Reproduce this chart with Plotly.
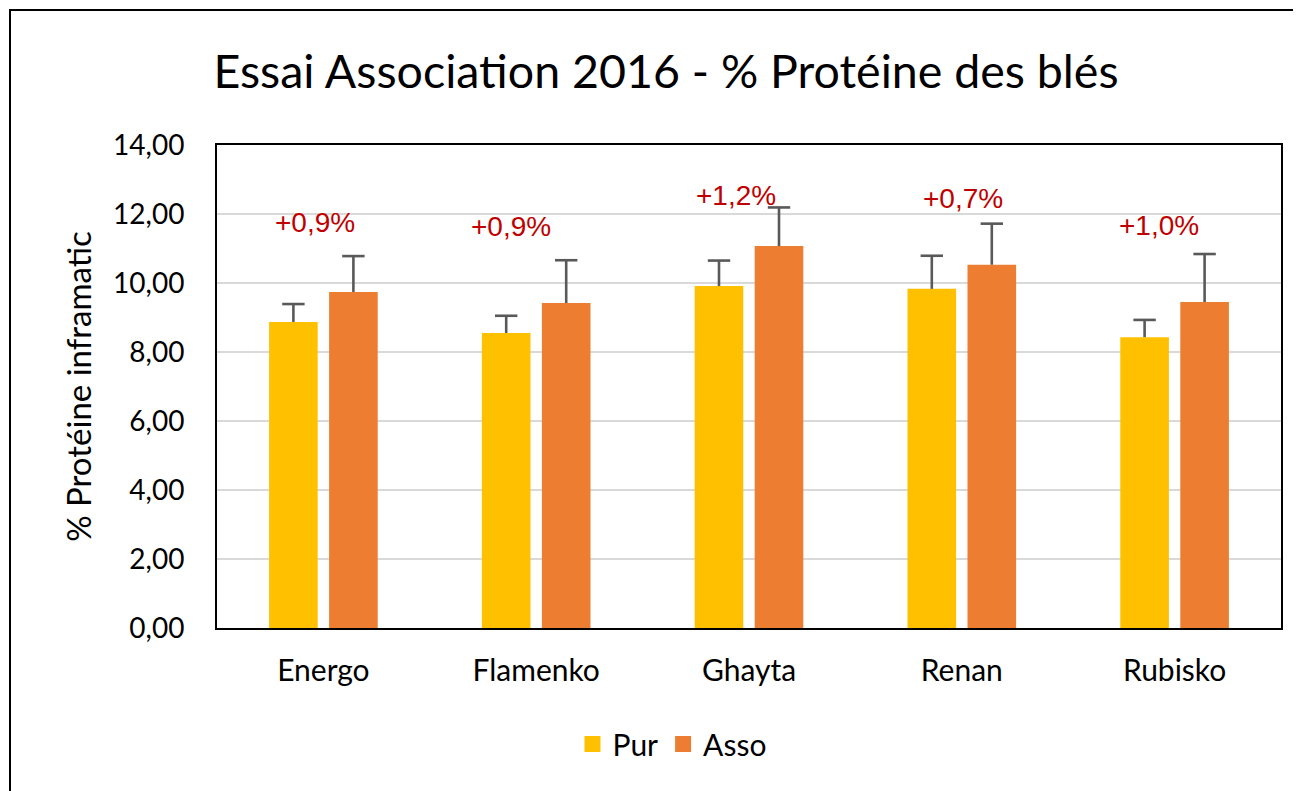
import plotly.graph_objects as go

categories = ["Energo", "Flamenko", "Ghayta", "Renan", "Rubisko"]
pur = [8.87, 8.55, 9.91, 9.83, 8.43]
pur_err = [0.52, 0.50, 0.74, 0.96, 0.50]
asso = [9.74, 9.42, 11.07, 10.53, 9.45]
asso_err = [1.04, 1.24, 1.12, 1.19, 1.39]
gain_labels = ["+0,9%", "+0,9%", "+1,2%", "+0,7%", "+1,0%"]
gain_label_y = [11.74, 11.65, 12.55, 12.46, 11.68]
gain_label_xshift = [-8, -25, -13, 1, -16]
y_ticks = [0, 2, 4, 6, 8, 10, 12, 14]

# page body adds an 8px offset; size the figure so it fits the window
W, H = 1293, 783
L, R, T, B = 209, 20, 137, 163
pw, ph = W - L - R, H - T - B
BARGAP = 0.436
ERR_COLOR = "#595959"
COLORS = {"Pur": "#FFC000", "Asso": "#ED7D31"}

fig = go.Figure()
for name, vals in [("Pur", pur), ("Asso", asso)]:
    fig.add_trace(go.Bar(
        x=categories, y=vals, name=name, offsetgroup=name, showlegend=False,
        marker=dict(color=COLORS[name], line=dict(width=0)),
    ))

# upward-only error bars: stem via error_y (no caps), hat via line marker
for name, vals, errs in [("Pur", pur, pur_err), ("Asso", asso, asso_err)]:
    tops = [v + e for v, e in zip(vals, errs)]
    fig.add_trace(go.Scatter(
        x=categories, y=tops, mode="markers", showlegend=False, hoverinfo="skip",
        offsetgroup=name,
        marker=dict(symbol="line-ew-open", size=16, color=ERR_COLOR,
                    line=dict(color=ERR_COLOR, width=2.6)),
        error_y=dict(type="data", array=[0]*len(errs), arrayminus=errs, symmetric=False,
                     color=ERR_COLOR, thickness=2.6, width=0),
    ))

# legend entries with larger square swatches
for name in ["Pur", "Asso"]:
    fig.add_trace(go.Scatter(
        x=[None], y=[None], mode="markers", name=name,
        marker=dict(symbol="square", size=20, color=COLORS[name]),
    ))

for c, t, yv, xs in zip(categories, gain_labels, gain_label_y, gain_label_xshift):
    fig.add_annotation(x=c, y=yv, text=t, showarrow=False, xshift=xs,
                       font=dict(family="Liberation Sans, Arial", size=28, color="#C00000"))

# outer chart border (extends beyond the visible area right/bottom)
fig.add_shape(type="rect", xref="paper", yref="paper",
              x0=(2 - L) / pw, x1=(W + 40 - L) / pw,
              y0=-(B + 40) / ph, y1=(H - B - 2) / ph,
              line=dict(color="black", width=2), fillcolor="rgba(0,0,0,0)", layer="below")

fig.update_layout(
    width=W, height=H,
    margin=dict(l=L, r=R, t=T, b=B, autoexpand=False),
    paper_bgcolor="white", plot_bgcolor="white",
    separators=", ",
    barmode="group", bargap=BARGAP, bargroupgap=0.19,
    scattermode="group", scattergap=BARGAP,
    title=dict(text="Essai Association 2016 - % Protéine des blés", x=658 / W, xanchor="center",
               y=1 - 64 / H, yanchor="middle",
               font=dict(family="Lato, Noto Sans", size=46.5, color="black")),
    font=dict(family="Lato, Noto Sans", color="black"),
    showlegend=True,
    legend=dict(orientation="h", x=664 / W, xref="container", xanchor="center",
                y=1 - 736 / H, yref="container", yanchor="middle", itemsizing="trace",
                font=dict(size=30, color="black"), itemwidth=30, traceorder="normal"),
    xaxis=dict(showline=True, linecolor="black", linewidth=2, mirror=True,
               tickfont=dict(size=30, color="black"), ticks="", ticklabelstandoff=15),
    yaxis=dict(range=[0, 14], tickvals=y_ticks, tickformat=".2f",
               showline=True, linecolor="black", linewidth=2, mirror=True,
               showgrid=True, gridcolor="#D9D9D9", gridwidth=2, zeroline=False,
               tickfont=dict(size=28, color="black"), ticks="", ticklabelstandoff=25,
               title=dict(text="% Protéine inframatic", font=dict(size=33, color="black"), standoff=12)),
)

fig.write_html("out.html")
